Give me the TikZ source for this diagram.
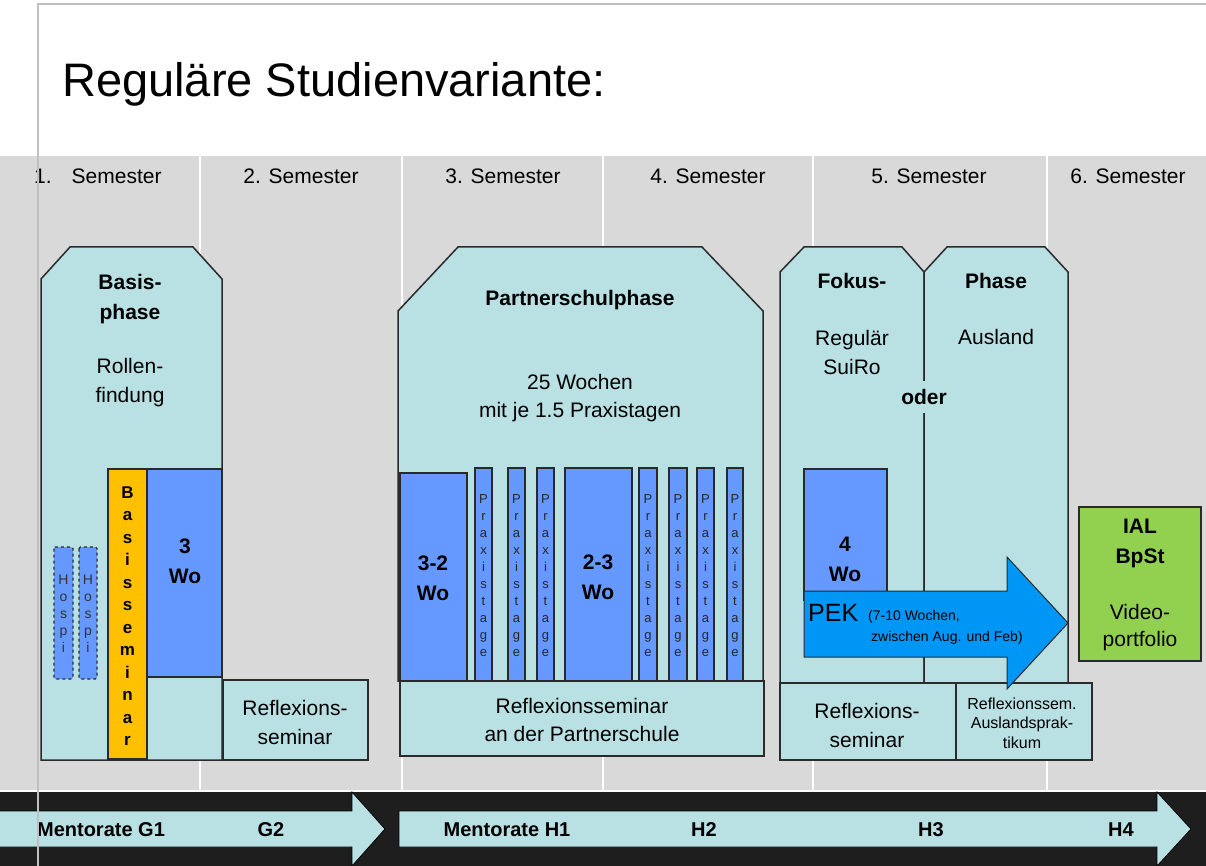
\documentclass[tikz,border=0pt]{standalone}
\usepackage{fontspec}
\setmainfont{Liberation Sans}
\definecolor{bandgray}{HTML}{D9D9D9}
\definecolor{cy}{HTML}{B9E0E3}
\definecolor{bl}{HTML}{6699FF}
\definecolor{orng}{HTML}{FFC000}
\definecolor{grn}{HTML}{92D050}
\definecolor{pek}{HTML}{0096F5}
\definecolor{dark}{HTML}{1E1E1E}
\definecolor{frm}{HTML}{C0C0C0}
\definecolor{edge}{HTML}{2A2A2A}
\begin{document}
\begin{tikzpicture}[x=1pt,y=-1pt,
  shp/.style={draw=edge, line width=1.5pt, fill=cy},
  bbox/.style={draw=edge, line width=1.5pt, fill=bl},
  txt/.style={font=\fontsize{21}{29}\selectfont, align=center, inner sep=0pt},
  btxt/.style={font=\fontsize{21}{30}\selectfont\bfseries, align=center, inner sep=0pt},
  semlbl/.style={font=\fontsize{21}{25}\selectfont, inner sep=0pt},
  praxis/.style={font=\fontsize{13}{17}\selectfont, align=center, inner sep=0pt, text=black!85},
  hosp/.style={font=\fontsize{14}{17}\selectfont, align=center, inner sep=0pt, text=black!80},
  divider/.style={white, line width=2pt},
  mentor/.style={font=\fontsize{20}{24}\selectfont\bfseries, inner sep=0pt}]

\useasboundingbox (0,0) rectangle (1206,866);
\fill[white] (0,0) rectangle (1206,866);

% gray band and semester dividers
\fill[bandgray] (0,155) rectangle (1206,790);
\draw[divider] (0,155) -- (1206,155);
\foreach \xx in {200,402,603,813,1047} \draw[divider] (\xx,155) -- (\xx,790);

% title
\node[anchor=base west, inner sep=0pt, font=\fontsize{47}{56}\selectfont] (title) at (62,97) {Reguläre Studienvariante:};

% semester labels
\node[semlbl, anchor=west] (s1) at (34,176) {1.\hspace{20pt}Semester};
\node[semlbl] (s2) at (301,176) {2. Semester};
\node[semlbl] (s3) at (503,176) {3. Semester};
\node[semlbl] (s4) at (708,176) {4. Semester};
\node[semlbl] (s5) at (929,176) {5. Semester};
\node[semlbl] (s6) at (1128,176) {6. Semester};

% bottom band
\fill[dark] (0,792) rectangle (1206,866);
\draw[fill=cy, draw=black, line width=0.8pt] (-2,811) -- (352,811) -- (352,792) -- (385,829) -- (352,866) -- (352,847) -- (-2,847) -- cycle;
\draw[fill=cy, draw=black, line width=0.8pt] (399,811) -- (1157,811) -- (1157,792) -- (1191,829) -- (1157,866) -- (1157,847) -- (399,847) -- cycle;
\node[mentor] (mg1) at (101,830) {Mentorate G1};
\node[mentor] (mg2) at (271,830) {G2};
\node[mentor] (mh1) at (507,830) {Mentorate H1};
\node[mentor] (mh2) at (704,830) {H2};
\node[mentor] (mh3) at (931,830) {H3};
\node[mentor] (mh4) at (1121,830) {H4};

% Basisphase
\path[shp] (41,279) -- (70,247) -- (193,247) -- (222,279) -- (222,760) -- (41,760) -- cycle;
\node[btxt] (basis) at (130,299) {Basis-\\phase};
\node[txt] (rollen) at (130,383) {Rollen-\\findung};
\path[draw=edge, line width=1.5pt, fill=orng] (108,469) rectangle (147,759);
\node[font=\fontsize{17}{22.5}\selectfont\bfseries, align=center, inner sep=0pt] (bsem) at (127.5,616) {B\\a\\s\\i\\s\\s\\e\\m\\i\\n\\a\\r};
\path[bbox] (147,469) rectangle (222,677);
\node[btxt] (wo3) at (185,561) {3\\Wo};
\path[draw=edge, line width=1.2pt, dashed, fill=bl, rounded corners=1.5pt] (54,547) rectangle (73,679);
\path[draw=edge, line width=1.2pt, dashed, fill=bl, rounded corners=1.5pt] (79,547) rectangle (97,679);
\node[hosp] (hosp1) at (63.5,614) {H\\o\\s\\p\\i};
\node[hosp] (hosp2) at (88,614) {H\\o\\s\\p\\i};
\path[shp] (223,680) rectangle (368,760);
\node[txt] (refl1) at (295,722) {Reflexions-\\seminar};

% Partnerschulphase
\path[shp] (398,311) -- (458,247) -- (702,247) -- (763,311) -- (763,681) -- (398,681) -- cycle;
\node[btxt] (psp) at (580,300) {Partnerschulphase};
\node[txt, font=\fontsize{21}{28}\selectfont] (wochen) at (580,398) {25 Wochen\\mit je 1.5 Praxistagen};
\path[bbox] (400,473) rectangle (467,681);
\node[btxt] (wo32) at (433,578) {3-2\\Wo};
\path[bbox] (565,468) rectangle (632,681);
\node[btxt] (wo23) at (598,577) {2-3\\Wo};
\foreach \xa/\xb/\nm in {475/492/p1, 508/525/p2, 537/554/p3, 639/657/p4, 669/687/p5, 697/714/p6, 727/743/p7} {
  \path[bbox] (\xa,468) rectangle (\xb,681);
  \node[praxis] (\nm) at ({(\xa+\xb)/2},576) {P\\r\\a\\x\\i\\s\\t\\a\\g\\e};
}
\path[shp] (400,681) rectangle (764,756);
\node[txt, font=\fontsize{21}{28}\selectfont] (refl2) at (582,720) {Reflexionsseminar\\an der Partnerschule};

% Fokus-Phase
\path[shp] (780,272) -- (804,247) -- (902,247) -- (924,272) -- (924,683) -- (780,683) -- cycle;
\path[shp] (924,272) -- (947,247) -- (1045,247) -- (1068,272) -- (1068,683) -- (924,683) -- cycle;
\node[btxt] (fokus) at (852,281) {Fokus-};
\node[txt] (regular) at (852,352) {Regulär\\SuiRo};
\node[btxt] (phase) at (996,281) {Phase};
\node[txt] (ausland) at (996,337) {Ausland};
\node[btxt, fill=cy, inner ysep=8pt, inner xsep=1pt] (oder) at (924,397) {oder};
\path[bbox] (804,469) rectangle (887,600);
\node[btxt] (wo4) at (845,559) {4\\Wo};
\path[shp] (780,683) rectangle (956,760);
\node[txt] (refl3) at (867,725) {Reflexions-\\seminar};
\path[shp] (956,683) rectangle (1092,760);
\node[font=\fontsize{16}{19.5}\selectfont, align=center, inner sep=0pt] (refl4) at (1022,723) {Reflexionssem.\\Auslandsprak-\\tikum};
\path[draw=edge, line width=1pt, fill=pek] (804,591) -- (1007,591) -- (1007,557) -- (1068,623) -- (1007,689) -- (1007,657) -- (804,657) -- cycle;
\node[anchor=base west, inner sep=0pt, font=\fontsize{25}{25}\selectfont] (pek) at (808,621) {PEK};
\node[anchor=base west, inner sep=0pt, font=\fontsize{14}{21}\selectfont] (pek1) at (868,620) {(7-10 Wochen,};
\node[anchor=base west, inner sep=0pt, font=\fontsize{14}{21}\selectfont] (pek2) at (871,641) {zwischen Aug. und Feb)};

% IAL
\path[draw=edge, line width=1.5pt, fill=grn] (1079,507) rectangle (1201,661);
\node[btxt] (ial) at (1140,543) {IAL\\BpSt};
\node[txt, font=\fontsize{21}{27}\selectfont] (video) at (1140,628) {Video-\\portfolio};

% frame lines
\draw[frm, line width=2.5pt] (38,866) -- (38,4) -- (1207,4);
\end{tikzpicture}
\end{document}
